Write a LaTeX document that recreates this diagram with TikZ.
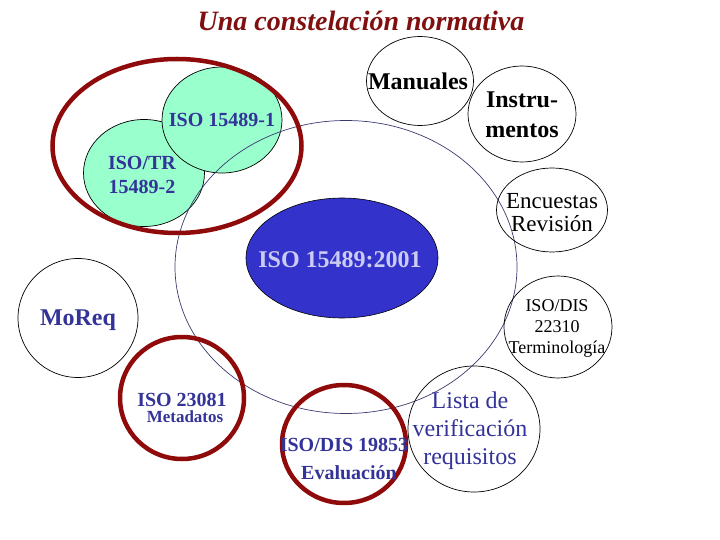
\documentclass[tikz,border=0pt]{standalone}
\usepackage{fontspec}
\setmainfont{Liberation Serif}
\usetikzlibrary{shapes.geometric}
\definecolor{titlered}{HTML}{801010}
\definecolor{ringred}{HTML}{8F0A0A}
\definecolor{mint}{HTML}{99FFCC}
\definecolor{royal}{HTML}{3333CC}
\definecolor{navyline}{HTML}{3A3A70}
\definecolor{lavtext}{HTML}{CCCCF2}
\definecolor{bluetext}{HTML}{333399}
\tikzset{
  every node/.style={inner sep=0pt, outer sep=0pt},
  thinring/.style={ellipse, draw=black, line width=0.7pt},
  greenring/.style={ellipse, draw=black, fill=mint, line width=0.7pt},
  redring/.style={ellipse, draw=ringred, line width=4.5pt},
  lbl/.style={align=center, font=\fontsize{#1}{#1}\selectfont},
  blbl/.style={align=center, font=\fontsize{#1}{#1}\selectfont\bfseries},
}
\begin{document}
\begin{tikzpicture}[x=1pt,y=-1pt]
\useasboundingbox (0,0) rectangle (720,540);
% title
\node[font=\fontsize{28}{28}\selectfont\bfseries\itshape, text=titlered, anchor=base] (title) at (361,31) {Una constelación normativa};
% green circles
\node[greenring, minimum width=121pt, minimum height=107pt] (g2) at (144,173) {};
\node[greenring, minimum width=120pt, minimum height=106pt] (g1) at (222,120) {};
% big thin ellipse
\node[ellipse, draw=navyline, line width=0.7pt, minimum width=342pt, minimum height=293pt] (big) at (346,267) {};
% red ellipse around the pair
\node[redring, minimum width=249pt, minimum height=174pt] (r1) at (177,146) {};
% central blue ellipse
\node[ellipse, draw=black, line width=0.6pt, fill=royal, minimum width=192pt, minimum height=120pt] (core) at (342,258) {};
% other circles
\node[thinring, minimum width=107pt, minimum height=89pt] (man) at (420,81) {};
\node[thinring, minimum width=108pt, minimum height=96pt] (ins) at (522,114) {};
\node[thinring, minimum width=111pt, minimum height=84pt] (enc) at (552,210) {};
\node[thinring, minimum width=120pt, minimum height=119pt] (mor) at (78,318) {};
\node[thinring, minimum width=108pt, minimum height=102pt] (dis) at (558,327) {};
\node[redring, minimum width=124pt, minimum height=122pt] (r2) at (182,398) {};
\node[redring, minimum width=124pt, minimum height=118pt] (r3) at (344,444) {};
\node[thinring, minimum width=132pt, minimum height=126pt] (lis) at (474,429) {};
% labels
\node[blbl=20, text=bluetext] (t1) at (222,120) {ISO 15489-1};
\node[blbl=20, text=bluetext] (t2) at (142,175) {ISO/TR\\[4pt]15489-2};
\node[blbl=24, text=lavtext] (tc) at (340,260) {ISO 15489:2001};
\node[blbl=24] (tm) at (418,81) {Manuales};
\node[blbl=24] (ti) at (522,115) {Instru-\\[6pt]mentos};
\node[lbl=23] (te) at (552,213) {Encuestas\\Revisión};
\node[blbl=24, text=bluetext] (tr) at (78,320) {MoReq};
\node[lbl=18] (td) at (557,328) {ISO/DIS\\[3pt]22310\\[3pt]Terminología};
\node[blbl=20, text=bluetext] (ta) at (182,400) {ISO 23081};
\node[blbl=17, text=bluetext] (tb) at (185,417) {Metadatos};
\node[blbl=20, text=bluetext] (tx) at (344,445) {ISO/DIS 19853};
\node[blbl=20, text=bluetext] (ty) at (349,473) {Evaluación};
\node[lbl=24, text=bluetext] (tl) at (470,431) {Lista de\\[4pt]verificación\\[4pt]requisitos};
\end{tikzpicture}
\end{document}
